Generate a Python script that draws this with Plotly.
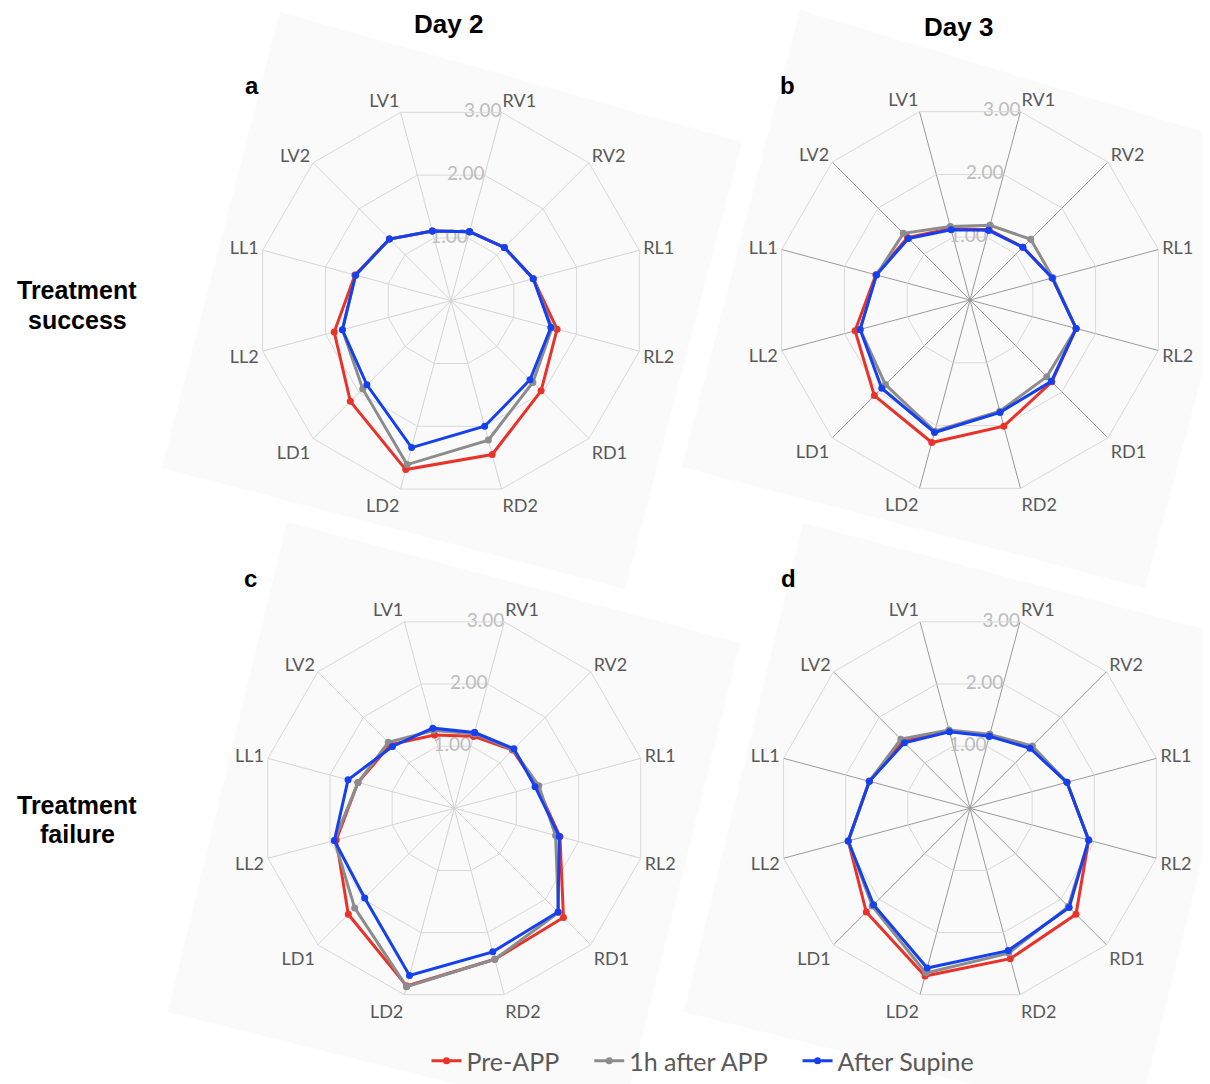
import plotly.graph_objects as go

# page body has an 8px margin: figure origin sits at (8, 8) of the screenshot
OFF = 8
W, H = 1210 - OFF, 1084 - OFF

categories = ["RV1", "RV2", "RL1", "RL2", "RD1", "RD2", "LD2", "LD1", "LL2", "LL1", "LV2", "LV1"]
series_names = ["Pre-APP", "1h after APP", "After Supine"]
radial_ticks = [0, 1, 2, 3]

# Panel a: Day 2, treatment success
a_pre = [1.10, 1.16, 1.31, 1.69, 1.96, 2.45, 2.69, 2.19, 1.86, 1.53, 1.34, 1.11]
a_1h = [1.10, 1.16, 1.31, 1.61, 1.78, 2.22, 2.61, 1.92, 1.73, 1.52, 1.34, 1.11]
a_sup = [1.10, 1.16, 1.31, 1.59, 1.72, 2.00, 2.34, 1.83, 1.73, 1.52, 1.34, 1.11]
# Panel b: Day 3, treatment success
b_pre = [1.12, 1.15, 1.31, 1.69, 1.78, 2.01, 2.27, 2.08, 1.83, 1.50, 1.36, 1.14]
b_1h = [1.19, 1.32, 1.32, 1.69, 1.67, 1.77, 2.09, 1.84, 1.75, 1.49, 1.45, 1.17]
b_sup = [1.11, 1.15, 1.31, 1.69, 1.77, 1.79, 2.11, 1.92, 1.75, 1.49, 1.34, 1.12]
# Panel c: Day 2, treatment failure
c_pre = [1.16, 1.28, 1.33, 1.70, 2.40, 2.43, 2.86, 2.33, 1.90, 1.55, 1.40, 1.18]
c_1h = [1.20, 1.29, 1.36, 1.63, 2.29, 2.43, 2.87, 2.19, 1.93, 1.55, 1.45, 1.25]
c_sup = [1.22, 1.31, 1.30, 1.69, 2.28, 2.31, 2.69, 1.97, 1.93, 1.71, 1.36, 1.29]
# Panel d: Day 3, treatment failure
d_pre = [1.17, 1.33, 1.56, 1.91, 2.33, 2.42, 2.70, 2.28, 1.96, 1.62, 1.47, 1.24]
d_1h = [1.19, 1.37, 1.56, 1.91, 2.16, 2.33, 2.65, 2.15, 1.96, 1.62, 1.52, 1.26]
d_sup = [1.16, 1.32, 1.56, 1.91, 2.18, 2.29, 2.57, 2.12, 1.96, 1.62, 1.44, 1.23]

panels = [
    ("polar", [a_pre, a_1h, a_sup]),
    ("polar2", [b_pre, b_1h, b_sup]),
    ("polar3", [c_pre, c_1h, c_sup]),
    ("polar4", [d_pre, d_1h, d_sup]),
]

colors = ["#e8322a", "#8c8c8c", "#1440f0"]
legend_pad = ["\u00a0\u00a0\u00a0\u00a0", "\u00a0\u00a0\u00a0\u00a0", ""]


def px(x):
    return (x - OFF) / W


def py(y):
    return 1 - (y - OFF) / H


fig = go.Figure()

for pi, (pname, series) in enumerate(panels):
    # value-axis labels along the first category spoke (Excel style), drawn under the data
    fig.add_trace(go.Scatterpolar(
        r=radial_ticks,
        theta=[categories[0]] * len(radial_ticks),
        mode="text",
        text=[f"{v:.2f}" for v in radial_ticks],
        textposition="middle left",
        textfont=dict(family="Lato, Open Sans, sans-serif", size=19, color="#bdbdbd"),
        subplot=pname,
        showlegend=False,
        hoverinfo="skip",
    ))
    for si, vals in enumerate(series):
        fig.add_trace(go.Scatterpolar(
            r=vals + [vals[0]],
            theta=categories + [categories[0]],
            mode="lines+markers",
            name=series_names[si] + legend_pad[si],
            line=dict(color=colors[si], width=3),
            marker=dict(color=colors[si], size=7),
            subplot=pname,
            showlegend=(pi == 0),
            legendgroup=series_names[si],
        ))

# polar centres / radii in screenshot pixels
centres = [(451, 300.7, 195, "#d4d4d4"), (970, 300, 195, "#9a9a9a"),
           (454.3, 808.3, 193, "#d4d4d4"), (970, 808.3, 193, "#9a9a9a")]

layout_polars = {}
for i, (cx, cy, r, spoke) in enumerate(centres):
    key = "polar" if i == 0 else f"polar{i+1}"
    layout_polars[key] = dict(
        domain=dict(x=[px(cx - r), px(cx + r)], y=[py(cy + r), py(cy - r)]),
        bgcolor="rgba(0,0,0,0)",
        gridshape="linear",
        angularaxis=dict(
            categoryorder="array", categoryarray=categories,
            rotation=75, direction="clockwise",
            showline=True, linecolor="#d9d9d9", linewidth=1,
            gridcolor=spoke, gridwidth=1,
            ticks="",
            tickfont=dict(family="Lato, Open Sans, sans-serif", size=18, color="#595959"),
        ),
        radialaxis=dict(
            range=[0, 3], tickvals=radial_ticks,
            angle=75, showticklabels=False,
            showline=False, ticks="",
            gridcolor="#d9d9d9", gridwidth=1,
        ),
    )

# faint tilted backgrounds behind each panel (pixel corner estimates)
bgs = [
    [(280, 12), (742, 142), (625, 589), (162, 468)],
    [(800, 10), (1262, 150), (1145, 588), (682, 467)],
    [(287, 522), (740, 643), (620, 1125), (168, 1012)],
    [(803, 523), (1256, 643), (1136, 1125), (684, 1012)],
]
shapes = []
for poly in bgs:
    path = "M " + " L ".join(f"{px(x):.4f},{py(y):.4f}" for x, y in poly) + " Z"
    shapes.append(dict(type="path", xref="paper", yref="paper", path=path,
                       fillcolor="#fafafa", line=dict(width=0), layer="below"))

annotations = []
texts = [
    ("<b>Day 2</b>", 448, 24, 26), ("<b>Day 3</b>", 958, 27, 26),
    ("<b>a</b>", 252, 86, 24), ("<b>b</b>", 787, 86, 24),
    ("<b>c</b>", 251, 578, 24), ("<b>d</b>", 788, 578, 24),
    ("<b>Treatment</b>", 77, 290, 25), ("<b>success</b>", 77, 319.5, 25),
    ("<b>Treatment</b>", 77, 804.5, 25), ("<b>failure</b>", 77, 834, 25),
]
for text, x, y, s in texts:
    annotations.append(dict(text=text, x=px(x), y=py(y), xref="paper", yref="paper",
                            showarrow=False,
                            font=dict(family="Liberation Sans, Arial, sans-serif", size=s, color="black"),
                            xanchor="center", yanchor="middle"))

fig.update_layout(
    width=W, height=H,
    margin=dict(l=0, r=0, t=0, b=0),
    paper_bgcolor="white",
    plot_bgcolor="white",
    shapes=shapes,
    annotations=annotations,
    legend=dict(orientation="h", x=px(703), y=0, xanchor="center", yanchor="bottom",
                font=dict(family="Lato, Open Sans, sans-serif", size=25, color="#595959"),
                bgcolor="rgba(0,0,0,0)", itemwidth=30),
    **layout_polars,
)

fig.write_html("out.html")
